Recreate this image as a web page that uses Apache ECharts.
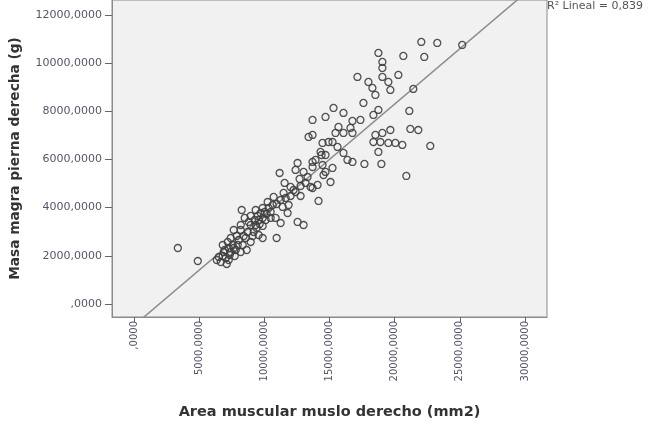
<!DOCTYPE html>
<html>
<head>
<meta charset="utf-8">
<script src="https://cdn.jsdelivr.net/npm/echarts@6/dist/echarts.min.js"></script>
<style>
html,body{margin:0;padding:0;background:#fff;}
#chart{width:649px;height:428px;}
</style>
</head>
<body>
<div id="chart"></div>
<script>
// Area muscular muslo derecho (mm2)
var areaMuslo = [
3367,4898,8265,9337,9719,9566,8954,8724,8189,7653,9184,9566,9872,7194,7576,7959,8342,6811,6888,7423,
7806,8189,6505,7041,6658,7270,8954,9337,
13393,14464,14923,14388,12551,11173,13699,13010,14694,11556,12704,13546,14158,12245,11480,10714,10255,10638,9872,11786,
10867,12551,13010,11250,10102,10944,14311,12398,13316,12015,
18750,19056,19056,19056,19515,19668,20280,17143,17985,18291,18520,17602,18750,18367,15306,16071,14694,13699,16760,17372,
15689,16607,15459,16071,16760,18520,19056,19668,18367,18903,19515,20051,15229,15612,18750,14694,16071,13699,13928,13699,
14464,15229,16377,16760,17678,18979,14541,15076,14082,13699,
22041,23265,25178,20663,22270,21428,21122,21199,21811,20587,22729,20893,
8571,9107,9413,9872,10178,10485,10332,10944,11250,11633,12015,12398,12781,13163,12781,11862,9872,9490,8495,7883,
7423,7270,8648,7730,7117,6811,6352,8954,
6964,8036,8418,8801,9260,9643,10025,7653,7347,8189,10485,11403
];
// Masa magra pierna derecha (g)
var masaMagra = [
2325,1785,3903,3903,3778,3488,3280,2989,3072,3072,2989,2865,2740,2574,2450,2450,2450,2450,2159,2159,
2242,2159,1951,1910,1744,1827,2574,3280,
6934,6685,6726,6186,5854,5439,5896,5481,5481,5024,5190,4858,4277,4733,4609,4443,4235,4110,3986,3778,
3571,3405,3280,3363,3488,2740,6311,5564,5273,4858,
10422,10048,9799,9425,9217,8885,9508,9425,9217,8968,8678,8346,8055,7847,8138,7930,7764,7640,7598,7640,
7349,7308,7100,7100,7100,7017,7100,7224,6726,6726,6685,6685,6726,6519,6311,6186,6270,7017,5979,5688,
5771,5647,5979,5896,5813,5813,5356,5065,4941,4816,
10878,10837,10754,10297,10255,8927,8013,7266,7224,6602,6560,5315,
2740,2823,3156,3239,3737,3820,3986,4152,4318,4401,4484,4650,4899,5024,4484,4110,3571,3654,3571,2823,
2740,2325,2242,1993,1661,1993,1827,3654,
2242,2657,2823,3405,3488,3322,3820,2325,2034,3280,3571,4028
];
// Lineal fit
var fitIntercept = -894;
var fitSlope = 0.4597;
var fitR2Label = 'R² Lineal = 0,839';
var xTicks = [0, 5000, 10000, 15000, 20000, 25000, 30000];
var yTicks = [0, 2000, 4000, 6000, 8000, 10000, 12000];
var xRange = [-1684, 31683];
var yRange = [-540, 12620];

var pts = areaMuslo.map(function (v, i) { return [v, masaMagra[i]]; });
var linePts = [xRange[0], xRange[1]].map(function (x) { return [x, fitIntercept + fitSlope * x]; });

function fmt(v) { return (v === 0 ? '' : String(v)) + ',0000'; }

var chart = echarts.init(document.getElementById('chart'), null, {renderer: 'canvas'});
chart.setOption({
  animation: false,
  backgroundColor: '#ffffff',
  grid: {left: 111, right: 102, top: 0, bottom: 111, show: true, backgroundColor: '#f1f1f1', borderColor: '#8a8a8a', borderWidth: 1},
  xAxis: {
    type: 'value', min: xRange[0], max: xRange[1],
    name: 'Area muscular muslo derecho (mm2)', nameLocation: 'middle', nameGap: 88,
    nameTextStyle: {fontFamily: 'DejaVu Sans', fontWeight: 'bold', fontSize: 14.5, color: '#333', verticalAlign: 'top'},
    splitLine: {show: false},
    axisLine: {show: true, onZero: false, lineStyle: {color: '#8a8a8a'}},
    axisTick: {show: true, length: 5, customValues: xTicks, lineStyle: {color: '#666'}},
    axisLabel: {customValues: xTicks, rotate: 90, margin: 4, fontSize: 10, fontFamily: 'DejaVu Sans', color: '#55556a', formatter: fmt}
  },
  yAxis: {
    type: 'value', min: yRange[0], max: yRange[1],
    name: 'Masa magra pierna derecha (g)', nameLocation: 'middle', nameGap: 90, nameRotate: 90,
    nameTextStyle: {fontFamily: 'DejaVu Sans', fontWeight: 'bold', fontSize: 13.7, color: '#333'},
    splitLine: {show: false},
    axisLine: {show: true, onZero: false, lineStyle: {color: '#8a8a8a'}},
    axisTick: {show: true, length: 7, customValues: yTicks, lineStyle: {color: '#666'}},
    axisLabel: {customValues: yTicks, margin: 10, fontSize: 11, fontFamily: 'DejaVu Sans', color: '#55556a', formatter: fmt}
  },
  series: [
    {type: 'line', data: linePts, symbol: 'none', clip: true, lineStyle: {color: '#8c8c8c', width: 1.5}, z: 2},
    {type: 'scatter', data: pts, symbol: 'circle', symbolSize: 7,
     itemStyle: {color: 'rgba(0,0,0,0)', borderColor: '#3f3f3f', borderWidth: 1.3, opacity: 0.9}, z: 3}
  ],
  graphic: [
    {type: 'text', left: 547, top: 1, style: {text: fitR2Label, fontSize: 11, fontFamily: 'DejaVu Sans', fill: '#555'}}
  ]
});
</script>
</body>
</html>
